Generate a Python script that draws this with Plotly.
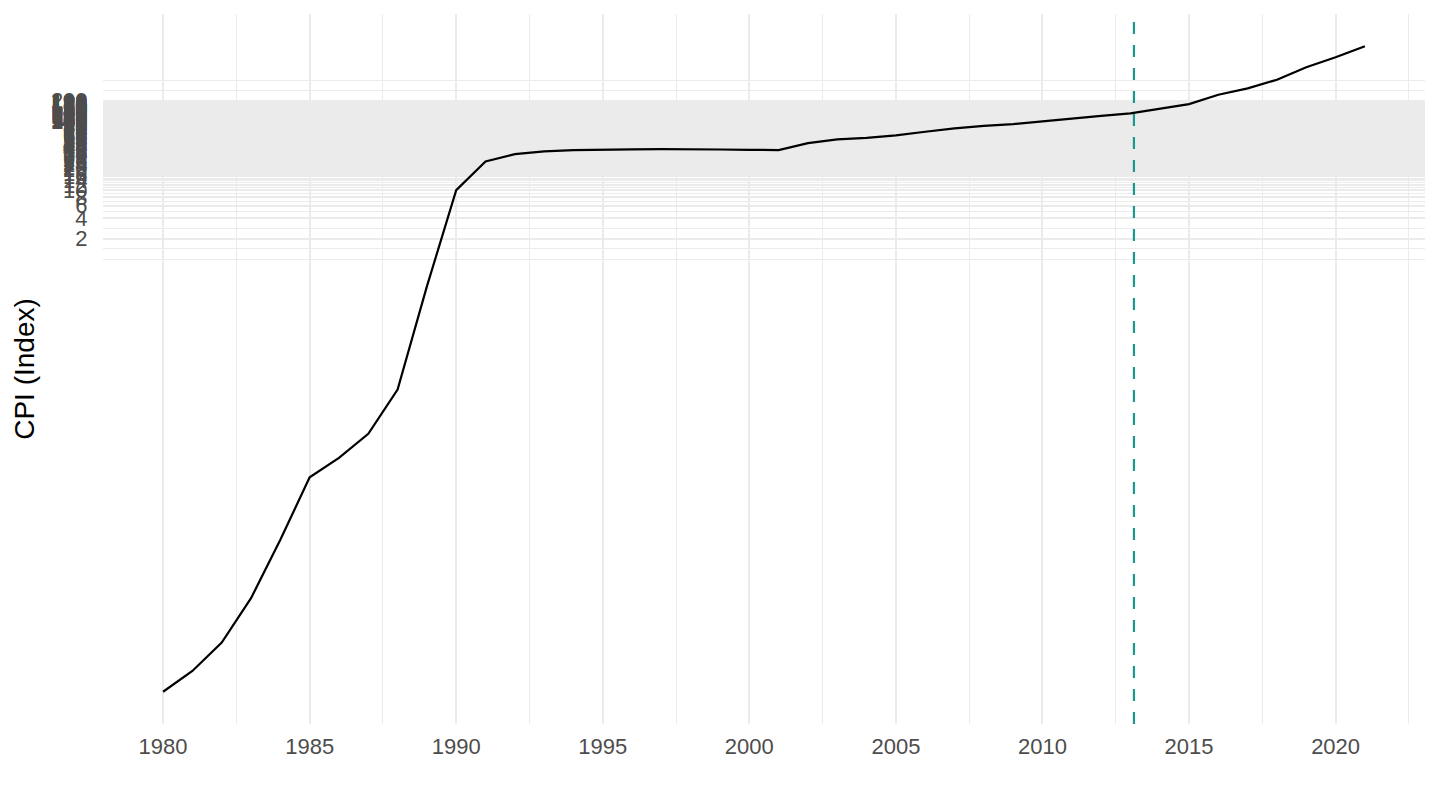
import numpy as np
import plotly.graph_objects as go

# Annual CPI index (log scale)
years = list(range(1980, 2022))
cpi = [
    5.3e-7, 1.06e-6, 2.74e-6, 1.21e-5, 8.5e-5, 6.85e-4, 1.31e-3, 2.93e-3,
    0.0129, 0.405, 10.07, 26.3, 33.6, 36.8, 38.4, 39.3, 39.4, 39.6,
    39.7, 39.2, 38.8, 38.4, 48.5, 55.0, 58.0, 62.9, 70.9, 79.4,
    86.6, 91.6, 100.3, 110.9, 121.0, 131.0, 155.0, 179.0, 244.0, 303.0,
    404.0, 611.0, 855.0, 1235.0,
]
break_year = 2013.12

# y breaks as in the original (every 2 up to 200)
y_breaks = list(range(2, 201, 2))
x_breaks = [1980, 1985, 1990, 1995, 2000, 2005, 2010, 2015, 2020]
x_minor = [1982.5, 1987.5, 1992.5, 1997.5, 2002.5, 2007.5, 2012.5, 2017.5, 2022.5]

# minor grid: midpoints in log space, extended one step beyond the majors
lb = np.log10(y_breaks)
step = lb[1] - lb[0]
ext = np.concatenate([[lb[0] - step], lb, [lb[-1] + step]])
y_minor = list(10 ** ((ext[:-1] + ext[1:]) / 2)) + list(10 ** ext)

GRID = "#EBEBEB"
FONT = "Liberation Sans, Arial, sans-serif"

fig = go.Figure()
fig.add_trace(go.Scatter(
    x=years, y=cpi, mode="lines",
    line=dict(color="black", width=2.2),
    showlegend=False, hoverinfo="x+y",
))

fig.add_shape(
    type="line", x0=break_year, x1=break_year, y0=0, y1=1,
    xref="x", yref="paper",
    line=dict(color="#1A9A8C", width=2.2, dash="12px,11px"),
)

ly = np.log10(cpi)
pad = 0.05 * (ly.max() - ly.min())

fig.update_layout(
    width=1440, height=810,
    paper_bgcolor="white", plot_bgcolor="white",
    margin=dict(l=103, r=15, t=14, b=86),
    font=dict(family=FONT, color="#4D4D4D", size=22),
    xaxis=dict(
        range=[1977.95, 2023.05], automargin=False,
        tickmode="array", tickvals=x_breaks,
        ticks="outside", ticklen=3, tickcolor="rgba(0,0,0,0)",
        showgrid=True, gridcolor=GRID, gridwidth=2,
        minor=dict(tickmode="array", tickvals=x_minor, showgrid=True,
                   gridcolor=GRID, gridwidth=1, ticks=""),
        zeroline=False, showline=False,
        tickfont=dict(size=22, color="#4D4D4D"),
    ),
    yaxis=dict(
        type="log", automargin=False,
        range=[ly.min() - pad, ly.max() + pad],
        tickmode="array", tickvals=y_breaks, ticktext=[str(v) for v in y_breaks],
        ticks="outside", ticklen=10, tickcolor="rgba(0,0,0,0)",
        showgrid=True, gridcolor=GRID, gridwidth=2,
        minor=dict(tickmode="array", tickvals=y_minor, showgrid=True,
                   gridcolor=GRID, gridwidth=1, ticks=""),
        zeroline=False, showline=False,
        tickfont=dict(size=22, color="#4D4D4D"),
        title=dict(text="CPI (Index)", font=dict(size=28, color="black"), standoff=8),
    ),
)

# drop the browser's default body margin so the figure sits at the page corner
fig.write_html("out.html", config={"displayModeBar": False},
               post_script="document.body.style.margin='0';")
